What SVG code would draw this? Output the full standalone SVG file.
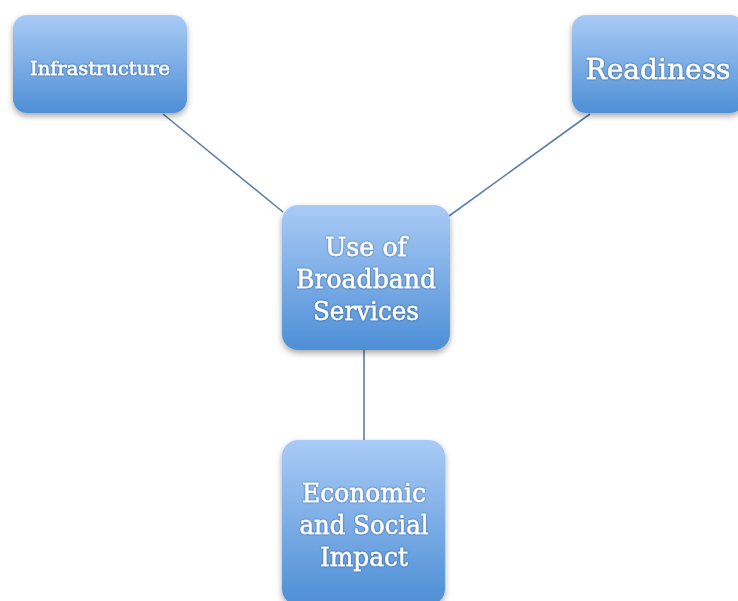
<svg xmlns="http://www.w3.org/2000/svg" width="738" height="601" viewBox="0 0 738 601">
<defs>
<linearGradient id="g" x1="0" y1="0" x2="0" y2="1">
<stop offset="0" stop-color="#a9cbf6"/>
<stop offset="1" stop-color="#4e8fd6"/>
</linearGradient>
<filter id="sh" x="-20%" y="-20%" width="140%" height="140%">
<feGaussianBlur in="SourceAlpha" stdDeviation="3"/>
<feOffset dy="3"/>
<feComponentTransfer><feFuncA type="linear" slope="0.35"/></feComponentTransfer>
<feMerge><feMergeNode/><feMergeNode in="SourceGraphic"/></feMerge>
</filter>
<filter id="tg" x="-10%" y="-30%" width="120%" height="160%">
<feGaussianBlur in="SourceAlpha" stdDeviation="1"/>
<feComponentTransfer><feFuncA type="linear" slope="0.5"/></feComponentTransfer>
<feMerge><feMergeNode/><feMergeNode in="SourceGraphic"/></feMerge>
</filter>
</defs>
<style>
.box{fill:url(#g);filter:url(#sh)}
.t{fill:#ffffff;stroke:#ffffff;stroke-width:0.4;font-family:"DejaVu Serif","Liberation Serif",serif;text-anchor:middle;filter:url(#tg)}
.c{stroke:#5a7ea8;stroke-width:1.6;fill:none}
</style>
<rect width="738" height="601" fill="#ffffff"/>
<g id="connectors">
<line class="c" x1="163" y1="114" x2="283" y2="212"/>
<line class="c" x1="590" y1="114" x2="449" y2="216"/>
<line class="c" x1="364" y1="350" x2="364" y2="441"/>
</g>
<g id="infrastructure">
<rect class="box" x="13" y="15" width="174" height="98" rx="14"/>
<text class="t" x="100" y="75" font-size="18" textLength="140" lengthAdjust="spacingAndGlyphs">Infrastructure</text>
</g>
<g id="readiness">
<rect class="box" x="572" y="15" width="172" height="98" rx="14"/>
<text class="t" x="658" y="79" font-size="28" textLength="145" lengthAdjust="spacingAndGlyphs">Readiness</text>
</g>
<g id="use">
<rect class="box" x="282" y="205" width="168" height="145" rx="16"/>
<text class="t" x="366" y="256" font-size="26" textLength="82" lengthAdjust="spacingAndGlyphs">Use of</text>
<text class="t" x="366" y="288" font-size="26" textLength="140" lengthAdjust="spacingAndGlyphs">Broadband</text>
<text class="t" x="366" y="320" font-size="26" textLength="106" lengthAdjust="spacingAndGlyphs">Services</text>
</g>
<g id="impact">
<rect class="box" x="282" y="440" width="163" height="165" rx="16"/>
<text class="t" x="364" y="502" font-size="26" textLength="124" lengthAdjust="spacingAndGlyphs">Economic</text>
<text class="t" x="364" y="534" font-size="26" textLength="129" lengthAdjust="spacingAndGlyphs">and Social</text>
<text class="t" x="364" y="566" font-size="26" textLength="88" lengthAdjust="spacingAndGlyphs">Impact</text>
</g>
</svg>
